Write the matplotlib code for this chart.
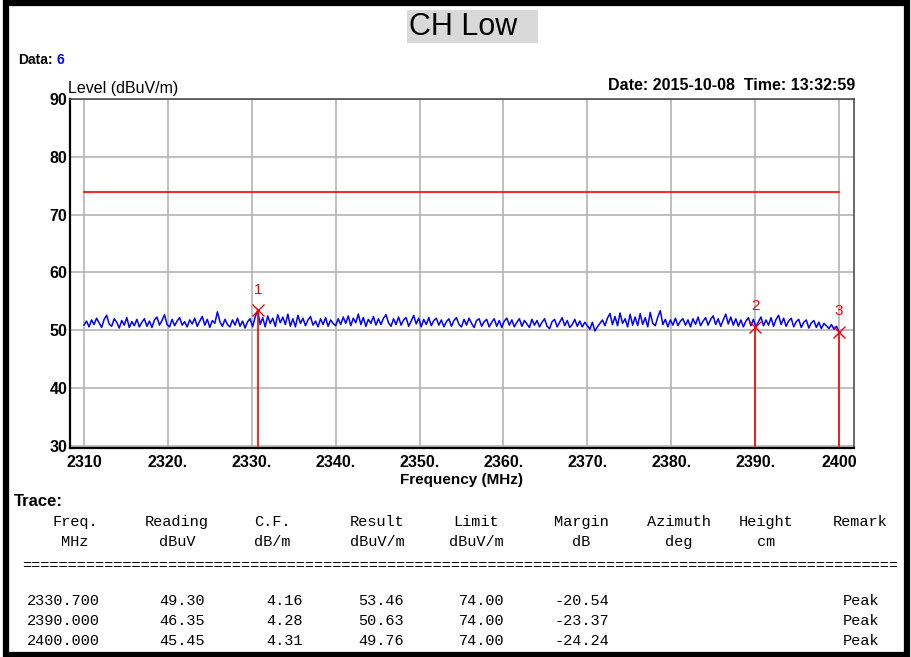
import numpy as np
import matplotlib
matplotlib.use('Agg')
import matplotlib.pyplot as plt
from matplotlib.patches import Rectangle

# ---------------------------------------------------------------------------
# data
# ---------------------------------------------------------------------------
f_start, f_stop = 2310.0, 2400.0
limit_level = 74.0

# trace level (dBuV/m), every 0.3 MHz
level = [
    50.9, 51.6, 50.6, 51.8, 51.0, 52.1, 51.3, 50.5, 51.9, 52.6, 51.1, 50.7, 52.0, 51.4, 50.4, 51.7, 50.9, 52.2, 50.5, 51.5,
    50.8, 51.9, 50.6, 51.4, 52.0, 50.7, 51.6, 50.5, 51.8, 52.3, 50.9, 51.7, 52.7, 51.0, 50.6, 51.9, 50.8, 51.6, 52.2, 50.9,
    51.5, 50.6, 51.8, 51.1, 52.1, 50.7, 51.6, 52.4, 50.9, 51.9, 50.5, 51.7, 51.2, 53.2, 51.5, 50.7, 51.9, 51.0, 50.6, 51.8,
    50.9, 52.1, 50.7, 51.6, 50.4, 51.5, 52.0, 50.6, 52.3, 53.46, 51.0, 52.2, 50.6, 52.5, 51.2, 52.1, 50.7, 52.7, 51.3, 52.3,
    51.0, 52.8, 50.7, 52.0, 50.6, 52.6, 51.2, 52.1, 50.8, 51.8, 52.4, 50.9, 51.6, 50.6, 52.0, 51.0, 52.2, 50.7, 51.8, 51.2,
    50.8, 52.0, 51.0, 52.3, 51.2, 52.5, 50.8, 52.1, 51.3, 52.8, 51.0, 52.2, 50.7, 51.9, 51.2, 52.4, 50.9, 52.0, 51.0, 52.1,
    52.7, 51.3, 50.7, 52.0, 51.0, 52.3, 50.9, 51.8, 52.2, 50.7, 51.6, 52.6, 51.1, 52.1, 50.6, 51.9, 51.0, 52.2, 50.8, 51.7,
    52.1, 50.9, 51.8, 50.6, 51.5, 52.0, 50.7, 51.7, 52.2, 51.0, 50.6, 51.9, 50.9, 52.1, 51.2, 50.5, 51.7, 52.0, 50.7, 51.5,
    51.9, 50.6, 51.4, 52.0, 50.7, 51.7, 50.5, 51.6, 52.1, 50.9, 51.8, 50.6, 51.4, 52.0, 50.7, 51.7, 51.1, 50.5, 51.9, 50.9,
    51.7, 50.6, 51.4, 52.0, 50.7, 50.3, 51.5, 51.9, 50.6, 51.4, 52.2, 50.8, 51.7, 50.5, 51.0, 51.9, 50.7, 51.6, 50.6, 51.4,
    50.8, 50.2, 51.4, 49.9, 50.6, 51.2, 51.8, 50.8, 52.1, 52.9, 51.0, 52.4, 50.8, 53.0, 51.2, 52.0, 50.6, 52.8, 50.9, 52.3,
    50.8, 52.9, 51.0, 52.2, 50.6, 53.1, 51.2, 50.8, 52.3, 53.4, 51.0, 51.9, 50.6, 51.8, 50.9, 52.1, 50.8, 51.6, 52.0, 50.9,
    51.8, 50.6, 52.0, 51.0, 52.3, 50.8, 51.6, 52.2, 50.9, 51.9, 52.5, 51.0, 52.0, 50.7, 51.8, 52.8, 51.1, 52.3, 50.9, 52.0,
    50.7, 51.8, 50.6, 51.6, 52.2, 50.8, 51.9, 50.6, 51.5, 52.3, 50.8, 51.8, 50.9, 52.2, 50.7, 51.9, 52.6, 51.0, 52.1, 50.7,
    51.6, 52.1, 50.6, 51.5, 51.9, 50.5, 51.4, 51.8, 50.4, 51.3, 51.7, 50.5, 51.4, 50.3, 51.2, 50.8, 50.3, 51.0, 50.2, 50.7,
    49.76,
]

# marker table
mk_freq    = [2330.700, 2390.000, 2400.000]
mk_reading = [49.30, 46.35, 45.45]
mk_cf      = [4.16, 4.28, 4.31]
mk_result  = [53.46, 50.63, 49.76]
mk_limit   = [74.00, 74.00, 74.00]
mk_margin  = [-20.54, -23.37, -24.24]
mk_remark  = ['Peak', 'Peak', 'Peak']

x_ticks = [2310, 2320, 2330, 2340, 2350, 2360, 2370, 2380, 2390, 2400]
x_tick_labels = ['2310', '2320.', '2330.', '2340.', '2350.', '2360.', '2370.', '2380.', '2390.', '2400']
y_ticks = [30, 40, 50, 60, 70, 80, 90]

head1 = ['Freq.', 'Reading', 'C.F.', 'Result', 'Limit', 'Margin', 'Azimuth', 'Height', 'Remark']
head2 = ['MHz', 'dBuV', 'dB/m', 'dBuV/m', 'dBuV/m', 'dB', 'deg', 'cm', '']

# ---------------------------------------------------------------------------
# figure
# ---------------------------------------------------------------------------
W, H = 912, 657
fig = plt.figure(figsize=(W / 100, H / 100), dpi=100)
fig.patch.set_facecolor('white')


def fx(x):
    return x / W


def fy(y):
    return 1 - y / H


SANS = 'Liberation Sans'
MONO = 'Liberation Mono'

# outer black frame
fig.add_artist(Rectangle((fx(6.5), fy(654.5)), fx(907) - fx(6.5), fy(2.5) - fy(654.5),
                         transform=fig.transFigure, fill=False, edgecolor='black', linewidth=4.5))

# title cell
fig.add_artist(Rectangle((fx(407), fy(43)), fx(538) - fx(407), fy(10) - fy(43),
                         transform=fig.transFigure, facecolor='#d9d9d9', edgecolor='none'))
fig.text(fx(409), fy(27), 'CH Low', family=SANS, fontsize=22, va='center', ha='left')

fig.text(fx(18), fy(60), 'Data:', family=SANS, fontsize=10, fontweight='bold', va='center')
fig.text(fx(57), fy(60), '6', family=SANS, fontsize=10, fontweight='bold', color='#0000ff', va='center')
fig.text(fx(68), fy(88), 'Level (dBuV/m)', family=SANS, fontsize=11.5, va='center')
fig.text(fx(855), fy(85), 'Date: 2015-10-08  Time: 13:32:59', family=SANS, fontsize=11.5,
         fontweight='bold', va='center', ha='right')

# plot area
ax = fig.add_axes([fx(70), fy(448), fx(854) - fx(70), fy(99) - fy(448)])
ax.set_xlim(2310 - 14 / 8.389, 2400 + 15 / 8.389)
ax.set_ylim(30 - 2 / 5.783, 90)

for t in x_ticks:
    ax.axvline(t, color='#b4b4b4', linewidth=1.2, zorder=1)
for t in y_ticks:
    ax.axhline(t, color='#b4b4b4', linewidth=1.2, zorder=1)

freqs = np.linspace(f_start, f_stop, len(level))
ax.plot(freqs, level, color='#0000ff', linewidth=1.1, zorder=3)
ax.plot([f_start, f_stop], [limit_level, limit_level], color='#ff0000', linewidth=1.2, zorder=4)

for i, (f, r) in enumerate(zip(mk_freq, mk_result)):
    ax.plot([f, f], [30, r], color='#ff0000', linewidth=1.2, zorder=5)
    ax.plot(f, r, marker='x', color='#ff0000', markersize=8, markeredgewidth=1.0, zorder=6)
    ax.text(f, r + 3.6, str(i + 1), color='#ff0000', family=SANS, fontsize=11, ha='center', va='center')

ax.set_xticks(x_ticks)
ax.set_xticklabels(x_tick_labels)
ax.set_yticks(y_ticks)
ax.tick_params(length=0, labelsize=11.5)
ax.tick_params(axis='x', pad=5)
ax.tick_params(axis='y', pad=2)
for lab in ax.get_xticklabels() + ax.get_yticklabels():
    lab.set_family(SANS)
    lab.set_fontweight('bold')

ax.spines['left'].set_color('black')
ax.spines['bottom'].set_color('black')
ax.spines['left'].set_linewidth(1.6)
ax.spines['bottom'].set_linewidth(1.6)
ax.spines['top'].set_color('#404040')
ax.spines['right'].set_color('#404040')
ax.spines['top'].set_linewidth(1.1)
ax.spines['right'].set_linewidth(1.1)

fig.text(fx(461), fy(480), 'Frequency (MHz)', family=SANS, fontsize=11, fontweight='bold',
         ha='center', va='center')

# ---------------------------------------------------------------------------
# trace table
# ---------------------------------------------------------------------------
fig.text(fx(14), fy(502), 'Trace:', family=SANS, fontsize=12, fontweight='bold', va='center')

head_x = [75, 177, 272, 377, 476, 581, 679, 766, 860]
for hx, h1, h2 in zip(head_x, head1, head2):
    fig.text(fx(hx), fy(522), h1, family=MONO, fontsize=11, ha='center', va='center')
    fig.text(fx(hx), fy(542), h2, family=MONO, fontsize=11, ha='center', va='center')

fig.text(fx(22), fy(566), '=' * 96, family=MONO, fontsize=11, ha='left', va='center')

col_right = [100, 205, 303, 404, 504, 609, 879]
row_y = [601, 621, 641]
for j in range(len(mk_freq)):
    cells = ['%.3f' % mk_freq[j], '%.2f' % mk_reading[j], '%.2f' % mk_cf[j], '%.2f' % mk_result[j],
             '%.2f' % mk_limit[j], '%.2f' % mk_margin[j], mk_remark[j]]
    for cx, c in zip(col_right, cells):
        fig.text(fx(cx), fy(row_y[j]), c, family=MONO, fontsize=11, ha='right', va='center')

fig.savefig('out.png', dpi=100, facecolor='white')
